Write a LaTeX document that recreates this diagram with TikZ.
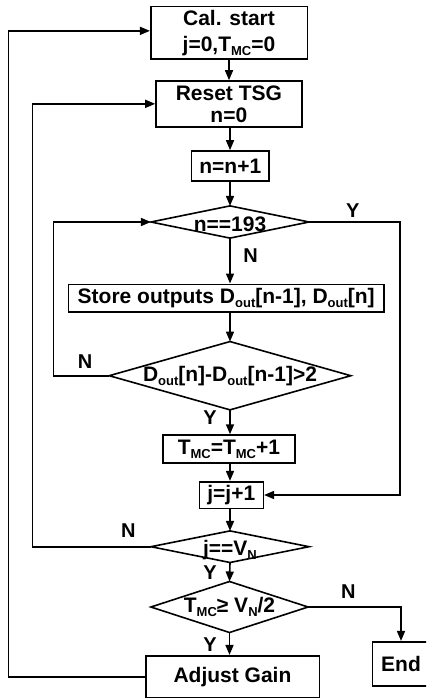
\documentclass[tikz,border=0pt]{standalone}
\usepackage{fontspec}
\setmainfont{Liberation Sans}
\usetikzlibrary{arrows.meta}
\newcommand\sbs[1]{\raisebox{-0.35ex}{\fontsize{13}{13}\selectfont #1}}
\begin{document}
\begin{tikzpicture}[x=1pt,y=-1pt,
  font=\fontsize{21}{26}\selectfont\bfseries,
  line width=1.6pt,
  >={Triangle[length=10pt,width=8pt]},
  box/.style={draw, inner sep=0pt, align=center},
  dia/.style={inner sep=0pt, align=center},
  lab/.style={inner sep=0pt, font=\fontsize{20}{20}\selectfont\bfseries}]
\useasboundingbox (0,0) rectangle (426,698);
\clip (0,0) rectangle (426,698);
% boxes
\node[box, minimum width=156.6pt, minimum height=52.3pt] (cal) at (229,32.85) {Cal. start\\ j=0,T\sbs{MC}=0};
\node[box, minimum width=145.7pt, minimum height=45.7pt, font=\fontsize{21}{22}\selectfont\bfseries] (reset) at (228.85,103.85) {Reset TSG\\ n=0};
\node[box, minimum width=77.3pt, minimum height=30pt] (nn1) at (230.3,166) {n=n+1};
\node[dia, minimum width=156.6pt, minimum height=30.6pt] (d193) at (230,222) {};
\node[inner sep=0pt] (t193) at ([yshift=-2pt]d193.center) {n==193};
\node[box, minimum width=315.7pt, minimum height=27.4pt] (store) at (226.2,298) {Store outputs D\sbs{out}[n-1], D\sbs{out}[n]};
\node[dia, minimum width=240pt, minimum height=66.7pt] (ddiff) at (230,375.7) {D\sbs{out}[n]-D\sbs{out}[n-1]>2};
\node[box, minimum width=132.3pt, minimum height=27.7pt] (tmc) at (228.9,448.9) {T\sbs{MC}=T\sbs{MC}+1};
\node[box, minimum width=64pt, minimum height=26.6pt] (jj1) at (231.3,495) {j=j+1};
\node[dia, minimum width=156.6pt, minimum height=30pt] (djv) at (230,546.7) {};
\node[inner sep=0pt] (tjv) at ([yshift=-3pt]djv.center) {j==V\sbs{N}};
\node[dia, minimum width=155.6pt, minimum height=49.4pt] (dtmc) at (229.5,607) {T\sbs{MC}≥ V\sbs{N}/2};
\node[box, minimum width=57pt, minimum height=44.3pt] (end) at (401,663.9) {End};
\node[box, minimum width=173.6pt, minimum height=42pt] (adjust) at (232.5,676.7) {Adjust Gain};
% diamond outlines
\foreach \d in {d193,ddiff,djv,dtmc}{
  \draw (\d.west) -- (\d.north) -- (\d.east) -- (\d.south) -- cycle;
}
% column coordinates
\coordinate (xL1) at (8.3,0);
\coordinate (xL2) at (32.3,0);
\coordinate (xL3) at (53.3,0);
\coordinate (xR) at (400,0);
% main flow
\draw[->] (cal.south) -- (cal.south |- reset.north);
\draw[->] (reset.south -| d193.north) -- (d193.north |- nn1.north);
\draw[->] (nn1.south -| d193.north) -- (d193.north);
\draw[->] (d193.south) -- (d193.south |- store.north);
\draw[->] (ddiff.north |- store.south) -- (ddiff.north);
\draw[->] (ddiff.south) -- (ddiff.south |- tmc.north);
\draw[->] (tmc.south -| ddiff.south) -- (ddiff.south |- jj1.north);
\draw[->] (jj1.south -| djv.north) -- (djv.north);
\draw[->] (djv.south) -- (dtmc.north);
\draw[->] (dtmc.south) -- (dtmc.south |- adjust.north);
% loops
\draw[->] (ddiff.west) -- (ddiff.west -| xL3) |- (d193.west);
\draw[->] (djv.west) -- (djv.west -| xL2) |- (reset.west);
\draw[->] (adjust.west) -- (adjust.west -| xL1) |- ([yshift=2pt]cal.west);
\draw[->] (d193.east) -- (d193.east -| xR) |- (jj1.east);
\draw[->] (dtmc.east) -| (end.north);
% labels
\node[lab] (y1) at (352.7,211) {Y};
\node[lab] (n1) at (250.7,256) {N};
\node[lab] (n2) at (85,362) {N};
\node[lab] (y2) at (210,418) {Y};
\node[lab] (n3) at (128.3,531) {N};
\node[lab] (y3) at (210,573) {Y};
\node[lab] (n4) at (348.3,591.7) {N};
\node[lab] (y4) at (210,645) {Y};
\end{tikzpicture}
\end{document}
